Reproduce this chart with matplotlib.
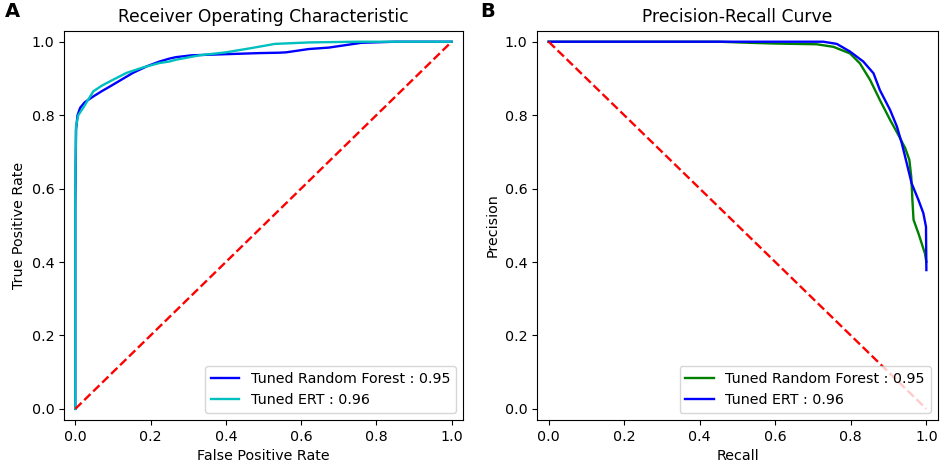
import numpy as np
import matplotlib
matplotlib.use("Agg")
from matplotlib import pyplot as plt

plt.rcParams['font.size'] = 10.3
plt.rcParams['lines.linewidth'] = 1.7

# ROC curve points
rf_fpr = [0.0, 0.0, 0.002, 0.006, 0.013, 0.025, 0.048, 0.07, 0.092, 0.12, 0.153, 0.19, 0.224, 0.25, 0.268,
          0.31, 0.40, 0.49, 0.54, 0.56, 0.62, 0.674, 0.76, 0.85, 0.92, 1.0]
rf_tpr = [0.0, 0.55, 0.76, 0.80, 0.82, 0.835, 0.851, 0.865, 0.878, 0.895, 0.915, 0.933, 0.946, 0.954, 0.958,
          0.963, 0.966, 0.969, 0.970, 0.971, 0.98, 0.984, 0.997, 1.0, 1.0, 1.0]
ert_fpr = [0.0, 0.0, 0.002, 0.008, 0.021, 0.048, 0.07, 0.092, 0.136, 0.18, 0.224, 0.25, 0.268, 0.33,
           0.40, 0.47, 0.53, 0.62, 0.75, 1.0]
ert_tpr = [0.0, 0.6, 0.77, 0.80, 0.82, 0.865, 0.88, 0.892, 0.915, 0.93, 0.942, 0.946, 0.951, 0.963,
           0.971, 0.983, 0.994, 0.998, 1.0, 1.0]

# Precision-Recall curve points
rf_rec = [0.0, 0.45, 0.533, 0.6, 0.71, 0.754, 0.798, 0.824, 0.851, 0.877, 0.904, 0.926, 0.944, 0.955,
          0.96, 0.963, 0.966, 0.979, 0.996, 1.0]
rf_prec = [1.0, 1.0, 0.997, 0.995, 0.993, 0.986, 0.968, 0.941, 0.896, 0.841, 0.787, 0.746, 0.71, 0.678,
           0.632, 0.569, 0.515, 0.478, 0.424, 0.40]
ert_rec = [0.0, 0.5, 0.65, 0.727, 0.763, 0.798, 0.833, 0.86, 0.877, 0.904, 0.922, 0.935, 0.948, 0.961,
           0.979, 0.992, 0.999, 1.0]
ert_prec = [1.0, 1.0, 1.0, 1.0, 0.994, 0.973, 0.946, 0.914, 0.868, 0.814, 0.769, 0.723, 0.669, 0.614,
            0.569, 0.533, 0.496, 0.378]

fig = plt.figure(figsize=(9.41, 4.65), dpi=100)
ax1 = fig.add_axes([0.068, 0.097, 0.424, 0.837])
ax2 = fig.add_axes([0.571, 0.097, 0.4255, 0.837])

# ROC
ax1.plot(rf_fpr, rf_tpr, 'b', label='Tuned Random Forest : 0.95')
ax1.plot(ert_fpr, ert_tpr, 'c', label='Tuned ERT : 0.96')
ax1.plot([0, 1], [0, 1], 'r--')
ax1.set_xlim(-0.03, 1.03)
ax1.set_ylim(-0.03, 1.03)
ax1.set_title('Receiver Operating Characteristic')
ax1.set_xlabel('False Positive Rate')
ax1.set_ylabel('True Positive Rate')
ax1.legend(loc='lower right')

# PR
ax2.plot(rf_rec, rf_prec, 'g', label='Tuned Random Forest : 0.95')
ax2.plot(ert_rec, ert_prec, 'b', label='Tuned ERT : 0.96')
ax2.plot([0, 1], [1, 0], 'r--')
ax2.set_xlim(-0.03, 1.03)
ax2.set_ylim(-0.03, 1.03)
ax2.set_title('Precision-Recall Curve')
ax2.set_xlabel('Recall')
ax2.set_ylabel('Precision')
ax2.legend(loc='lower right')

fig.text(0.005, 0.995, 'A', fontsize=14, fontweight='bold', va='top', ha='left')
fig.text(0.51, 0.995, 'B', fontsize=14, fontweight='bold', va='top', ha='left')

fig.savefig('out.png', dpi=100)
